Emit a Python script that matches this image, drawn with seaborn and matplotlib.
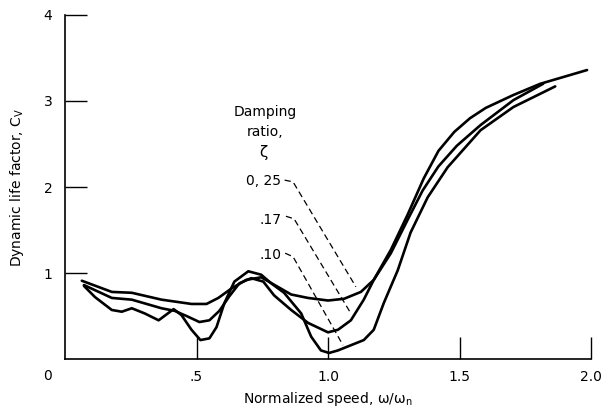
import matplotlib
matplotlib.use("Agg")
import matplotlib.pyplot as plt
import seaborn as sns
import pandas as pd

# ---- data ----
x_25 = [0.064, 0.178, 0.254, 0.367, 0.481, 0.538, 0.583, 0.633, 0.689, 0.746, 0.803, 0.860,
        0.924, 1.000, 1.061, 1.125, 1.174, 1.239, 1.303, 1.364, 1.420, 1.480, 1.540, 1.600,
        1.705, 1.807, 1.985]
y_25 = [0.91, 0.78, 0.77, 0.69, 0.64, 0.64, 0.71, 0.82, 0.92, 0.95, 0.85, 0.75,
        0.71, 0.68, 0.70, 0.78, 0.92, 1.27, 1.68, 2.10, 2.42, 2.64, 2.80, 2.92,
        3.07, 3.20, 3.36]

x_17 = [0.072, 0.178, 0.254, 0.367, 0.417, 0.462, 0.511, 0.549, 0.587, 0.625, 0.663, 0.708,
        0.754, 0.795, 0.860, 0.924, 1.000, 1.038, 1.087, 1.136, 1.174, 1.239, 1.303, 1.360,
        1.420, 1.490, 1.580, 1.705, 1.818]
y_17 = [0.86, 0.71, 0.69, 0.59, 0.56, 0.50, 0.43, 0.45, 0.56, 0.73, 0.88, 0.94,
        0.90, 0.74, 0.57, 0.42, 0.31, 0.34, 0.45, 0.69, 0.92, 1.23, 1.62, 1.96,
        2.24, 2.48, 2.72, 3.01, 3.20]

x_10 = [0.072, 0.114, 0.178, 0.216, 0.254, 0.303, 0.356, 0.413, 0.443, 0.481, 0.515, 0.549,
        0.576, 0.606, 0.644, 0.697, 0.746, 0.784, 0.833, 0.898, 0.936, 0.973, 1.004, 1.038,
        1.087, 1.136, 1.174, 1.212, 1.265, 1.314, 1.379, 1.455, 1.580, 1.705, 1.864]
y_10 = [0.85, 0.72, 0.57, 0.55, 0.59, 0.53, 0.45, 0.58, 0.51, 0.34, 0.22, 0.24,
        0.37, 0.65, 0.90, 1.02, 0.98, 0.88, 0.77, 0.53, 0.26, 0.10, 0.07, 0.10,
        0.16, 0.22, 0.34, 0.65, 1.03, 1.47, 1.88, 2.23, 2.66, 2.93, 3.17]

damping_labels = ["0, 25", ".17", ".10"]
label_x = [0.822, 0.822, 0.822]
label_y = [2.07, 1.62, 1.21]
leader_x = [[0.835, 0.867, 1.106], [0.840, 0.871, 1.087], [0.837, 0.867, 1.057]]
leader_y = [[2.08, 2.06, 0.84], [1.66, 1.63, 0.53], [1.23, 1.19, 0.16]]

x_ticks = [0.5, 1.0, 1.5, 2.0]
x_tick_labels = [".5", "1.0", "1.5", "2.0"]
y_ticks = [1, 2, 3, 4]
y_tick_labels = ["1", "2", "3", "4"]

df = pd.concat([
    pd.DataFrame({"x": x_25, "y": y_25, "zeta": "0.25"}),
    pd.DataFrame({"x": x_17, "y": y_17, "zeta": "0.17"}),
    pd.DataFrame({"x": x_10, "y": y_10, "zeta": "0.10"}),
], ignore_index=True)

sns.set_style("ticks")
plt.rcParams["font.family"] = ["DejaVu Sans"]
plt.rcParams["mathtext.fontset"] = "dejavusans"
plt.rcParams["text.color"] = "black"
plt.rcParams["axes.labelcolor"] = "black"

fig = plt.figure(figsize=(6.04, 4.15), dpi=100)
ax = fig.add_axes([65 / 604, 1 - 359 / 415, (591 - 65) / 604, (359 - 15) / 415])

sns.lineplot(data=df, x="x", y="y", hue="zeta", units="zeta", estimator=None,
             sort=False, palette=["black", "black", "black"], linewidth=1.9,
             legend=False, ax=ax)
for line in ax.lines:
    line.set_solid_joinstyle("round")
    line.set_solid_capstyle("round")

for lx, ly in zip(leader_x, leader_y):
    ax.plot(lx, ly, color="black", linewidth=0.9, linestyle=(0, (5, 3)))

for t, tx, ty in zip(damping_labels, label_x, label_y):
    ax.text(tx, ty, t, ha="right", va="center", fontsize=10, color="black")

ax.text(0.761, 2.87, "Damping", ha="center", va="center", fontsize=10, color="black")
ax.text(0.761, 2.64, "ratio,", ha="center", va="center", fontsize=10, color="black")
ax.text(0.755, 2.40, "ζ", ha="center", va="center", fontsize=11, color="black")

ax.set_xlim(0, 2.0)
ax.set_ylim(0, 4)
ax.set_xticks(x_ticks)
ax.set_xticklabels(x_tick_labels)
ax.set_yticks(y_ticks)
ax.set_yticklabels(y_tick_labels)
ax.tick_params(axis="both", direction="in", length=16, width=1.0, labelsize=10,
               color="black", labelcolor="black")
ax.tick_params(axis="y", pad=9)
ax.tick_params(axis="x", pad=8)
sns.despine(ax=ax)
for s in ["left", "bottom"]:
    ax.spines[s].set_color("black")
    ax.spines[s].set_linewidth(1.2)

ax.set_xlabel(r"Normalized speed, ω/ω$_{\rm n}$", fontsize=10, labelpad=4, color="black")
ax.set_ylabel(r"Dynamic life factor, C$_{\rm V}$", fontsize=10, labelpad=13, color="black")
fig.text(48 / 604, 1 - 376 / 415, "0", ha="center", va="center", fontsize=10, color="black")

fig.savefig("out.png", dpi=100)
